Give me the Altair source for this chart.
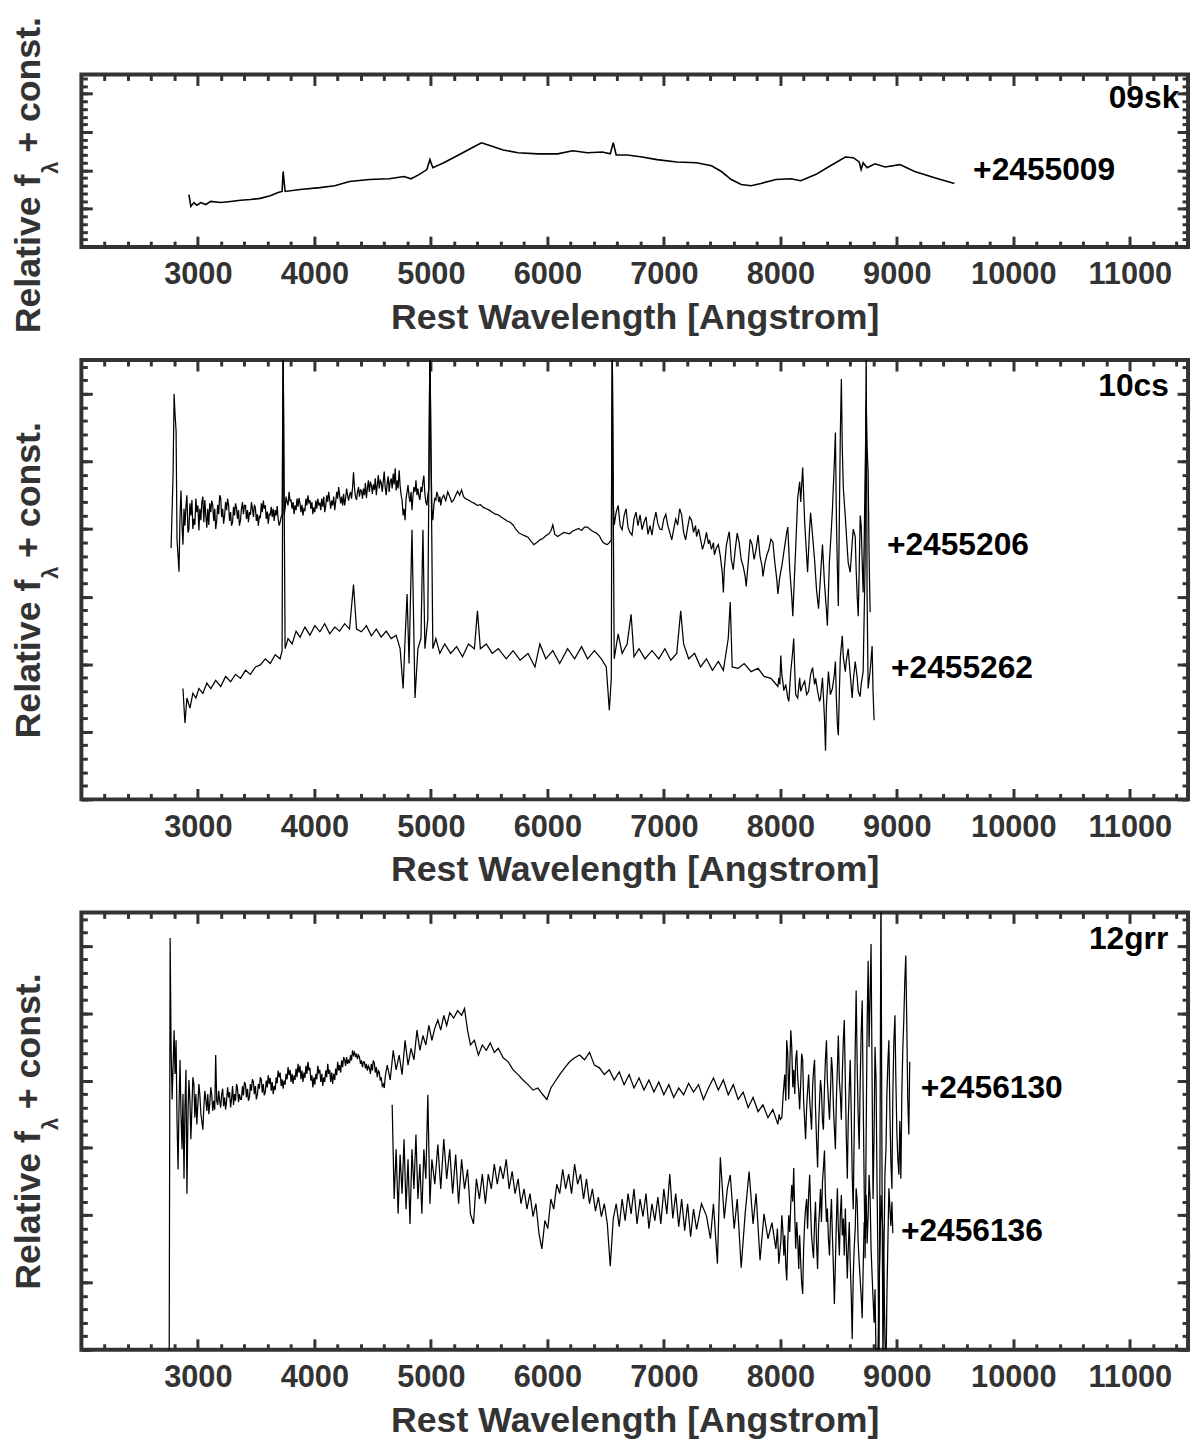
import altair as alt
import pandas as pd

FONT = "Liberation Sans"
AXIS_GRAY = "#333333"

# Each spectrum: list of (rest wavelength [A], relative flux + const.)
# ---------------- Panel 1: 09sk ----------------
sk09 = [(2923, 1.37), (2940, 1.06), (2966, 1.16), (2992, 1.09), (3026, 1.16), (3068, 1.11), (3111, 1.19), (3196, 1.16), (3281, 1.19), (3366, 1.22),
        (3451, 1.24), (3536, 1.27), (3621, 1.34), (3689, 1.42), (3723, 1.45), (3732, 1.97), (3749, 1.45), (3877, 1.50), (4047, 1.55), (4175, 1.60),
        (4302, 1.71), (4472, 1.76), (4643, 1.78), (4770, 1.84), (4830, 1.78), (4898, 1.89), (4966, 2.02), (4992, 2.28), (5017, 2.07), (5111, 2.20),
        (5238, 2.40), (5366, 2.61), (5434, 2.72), (5493, 2.66), (5621, 2.53), (5749, 2.46), (5919, 2.43), (6089, 2.43), (6217, 2.51), (6345, 2.46),
        (6472, 2.48), (6540, 2.43), (6566, 2.72), (6591, 2.40), (6685, 2.40), (6813, 2.35), (6941, 2.28), (7111, 2.22), (7281, 2.20), (7409, 2.12),
        (7494, 1.97), (7579, 1.76), (7664, 1.63), (7749, 1.60), (7834, 1.66), (7962, 1.76), (8090, 1.78), (8175, 1.73), (8303, 1.89), (8430, 2.12),
        (8558, 2.35), (8626, 2.33), (8677, 2.22), (8694, 2.02), (8711, 2.20), (8745, 2.07), (8813, 2.17), (8899, 2.09), (9026, 2.15), (9154, 1.97),
        (9324, 1.81), (9494, 1.66)]

# ---------------- Panel 2: 10cs ----------------
cs10_206 = [
    (2770, 3.72), (2787, 4.80), (2796, 6.00), (2804, 5.70), (2813, 5.45), (2821, 3.84), (2830, 3.60), (2838, 3.37), (2847, 4.20), (2855, 4.57),
    (2864, 4.05), (2872, 3.77), (2881, 4.30), (2889, 4.05), (2898, 4.35), (2906, 4.50), (2915, 3.95), (2923, 3.99), (2932, 4.38), (2940, 4.20),
    (2949, 4.43), (2957, 4.00), (2966, 4.15), (2974, 4.06), (2983, 4.45), (2991, 4.25), (3000, 4.35), (3009, 3.98), (3017, 4.30), (3026, 4.13),
    (3034, 4.40), (3043, 4.48), (3051, 4.10), (3060, 4.43), (3068, 4.20), (3077, 4.02), (3085, 4.30), (3094, 4.06), (3102, 4.38), (3111, 4.25),
    (3119, 4.42), (3128, 4.35), (3136, 4.12), (3145, 4.30), (3153, 4.00), (3162, 4.13), (3170, 4.36), (3179, 4.22), (3187, 4.50), (3196, 4.46),
    (3204, 4.18), (3213, 4.30), (3221, 4.08), (3230, 4.21), (3238, 4.40), (3247, 4.28), (3255, 4.45), (3264, 4.35), (3272, 4.12), (3281, 4.25),
    (3289, 4.05), (3298, 4.10), (3306, 4.33), (3315, 4.20), (3323, 4.38), (3332, 4.31), (3340, 4.15), (3349, 4.28), (3357, 4.05), (3366, 4.13),
    (3374, 4.30), (3383, 4.40), (3391, 4.22), (3400, 4.35), (3409, 4.35), (3417, 4.15), (3426, 4.28), (3434, 4.10), (3443, 4.25), (3451, 4.21),
    (3460, 4.40), (3468, 4.30), (3477, 4.18), (3485, 4.36), (3494, 4.31), (3502, 4.12), (3511, 4.22), (3519, 4.05), (3528, 4.20), (3536, 4.16),
    (3545, 4.38), (3553, 4.25), (3562, 4.42), (3570, 4.30), (3579, 4.35), (3587, 4.15), (3596, 4.26), (3604, 4.08), (3613, 4.22), (3621, 4.21),
    (3630, 4.33), (3638, 4.18), (3647, 4.30), (3655, 4.12), (3664, 4.28), (3672, 4.20), (3681, 4.34), (3689, 4.15), (3698, 4.05), (3706, 4.10),
    (3715, 4.18), (3723, 4.21), (3732, 6.80), (3740, 4.21), (3749, 4.30), (3757, 4.48), (3766, 4.40), (3774, 4.35), (3783, 4.55), (3791, 4.42),
    (3800, 4.43), (3809, 4.30), (3817, 4.40), (3826, 4.22), (3834, 4.35), (3843, 4.28), (3851, 4.45), (3860, 4.33), (3868, 4.46), (3877, 4.38),
    (3885, 4.25), (3894, 4.36), (3902, 4.20), (3911, 4.30), (3919, 4.28), (3928, 4.45), (3936, 4.35), (3945, 4.50), (3953, 4.38), (3962, 4.43),
    (3970, 4.30), (3979, 4.40), (3987, 4.22), (3996, 4.32), (4004, 4.25), (4013, 4.42), (4021, 4.30), (4030, 4.45), (4038, 4.36), (4047, 4.38),
    (4055, 4.28), (4064, 4.45), (4072, 4.33), (4081, 4.48), (4089, 4.25), (4098, 4.35), (4106, 4.50), (4115, 4.40), (4123, 4.55), (4132, 4.43),
    (4140, 4.30), (4149, 4.42), (4157, 4.35), (4166, 4.48), (4175, 4.28), (4183, 4.40), (4192, 4.55), (4200, 4.45), (4209, 4.62), (4217, 4.50),
    (4226, 4.38), (4234, 4.48), (4243, 4.35), (4251, 4.52), (4260, 4.35), (4268, 4.45), (4277, 4.60), (4285, 4.50), (4294, 4.42), (4302, 4.50),
    (4311, 4.55), (4319, 4.45), (4328, 4.62), (4336, 4.84), (4345, 4.60), (4353, 4.48), (4362, 4.43), (4370, 4.55), (4379, 4.62), (4387, 4.48),
    (4396, 4.58), (4404, 4.57), (4413, 4.45), (4421, 4.60), (4430, 4.50), (4438, 4.68), (4447, 4.46), (4455, 4.60), (4464, 4.72), (4472, 4.55),
    (4481, 4.70), (4489, 4.65), (4498, 4.52), (4506, 4.66), (4515, 4.58), (4523, 4.75), (4532, 4.50), (4540, 4.65), (4549, 4.80), (4557, 4.60),
    (4566, 4.72), (4574, 4.69), (4583, 4.55), (4591, 4.70), (4600, 4.85), (4608, 4.62), (4617, 4.50), (4625, 4.68), (4634, 4.78), (4642, 4.55),
    (4651, 4.70), (4660, 4.75), (4668, 4.60), (4677, 4.82), (4685, 4.66), (4694, 4.90), (4702, 4.57), (4711, 4.72), (4719, 4.60), (4728, 4.87),
    (4736, 4.65), (4745, 4.50), (4753, 4.43), (4762, 4.20), (4770, 4.30), (4779, 4.13), (4787, 4.45), (4796, 4.55), (4804, 4.65), (4813, 4.48),
    (4821, 4.40), (4830, 4.55), (4838, 4.28), (4847, 4.50), (4855, 4.62), (4864, 4.55), (4872, 4.72), (4881, 4.50), (4889, 4.60), (4898, 4.48),
    (4906, 4.43), (4915, 4.62), (4923, 4.55), (4932, 4.70), (4940, 4.79), (4949, 4.52), (4957, 4.40), (4966, 4.35), (4974, 4.50), (4983, 4.60),
    (4992, 6.80), (5000, 5.20), (5009, 4.30), (5017, 4.13), (5026, 4.35), (5034, 4.45), (5043, 4.43), (5051, 4.55), (5060, 4.50), (5068, 4.40),
    (5077, 4.48), (5085, 4.35), (5094, 4.45), (5111, 4.50), (5128, 4.42), (5145, 4.55), (5162, 4.48), (5179, 4.40), (5196, 4.43), (5213, 4.50),
    (5230, 4.56), (5247, 4.50), (5264, 4.58), (5281, 4.48), (5298, 4.45), (5323, 4.43), (5349, 4.40), (5374, 4.38), (5400, 4.35), (5425, 4.36),
    (5451, 4.32), (5476, 4.30), (5502, 4.28), (5527, 4.25), (5553, 4.22), (5579, 4.21), (5604, 4.18), (5630, 4.15), (5655, 4.12), (5681, 4.10),
    (5706, 4.06), (5732, 3.99), (5757, 3.94), (5783, 3.92), (5808, 3.90), (5834, 3.88), (5859, 3.82), (5885, 3.77), (5910, 3.80), (5936, 3.84),
    (5961, 3.86), (5987, 3.90), (6013, 3.93), (6030, 3.97), (6047, 4.06), (6064, 3.92), (6089, 3.89), (6115, 3.92), (6140, 3.95), (6166, 3.94),
    (6191, 3.93), (6217, 3.97), (6243, 3.99), (6268, 4.01), (6294, 3.98), (6319, 4.03), (6345, 4.03), (6370, 3.99), (6396, 3.96), (6421, 3.94),
    (6447, 3.90), (6464, 3.84), (6481, 3.80), (6498, 3.78), (6515, 3.77), (6532, 3.80), (6549, 3.84), (6557, 6.80), (6566, 4.40), (6574, 4.06),
    (6591, 4.25), (6608, 4.35), (6625, 4.05), (6642, 3.99), (6659, 4.20), (6676, 4.30), (6693, 4.02), (6710, 3.95), (6727, 3.91), (6744, 4.15),
    (6761, 4.25), (6778, 4.05), (6796, 4.21), (6813, 3.99), (6830, 4.10), (6847, 4.18), (6864, 3.92), (6881, 4.05), (6898, 3.91), (6915, 4.12),
    (6932, 4.25), (6949, 4.08), (6966, 4.00), (6983, 3.99), (7000, 4.15), (7017, 4.22), (7034, 4.05), (7051, 3.95), (7068, 3.84), (7085, 4.00),
    (7102, 4.15), (7119, 4.06), (7136, 4.30), (7153, 4.21), (7170, 3.95), (7187, 3.84), (7204, 4.02), (7221, 4.18), (7238, 4.13), (7255, 3.95),
    (7272, 4.05), (7281, 3.89), (7298, 4.00), (7315, 3.85), (7332, 3.70), (7349, 3.80), (7366, 3.95), (7383, 3.78), (7392, 3.84), (7409, 3.70),
    (7426, 3.80), (7434, 3.62), (7451, 3.72), (7468, 3.77), (7485, 3.60), (7502, 3.35), (7511, 3.06), (7519, 3.40), (7536, 3.75), (7553, 3.90),
    (7562, 3.96), (7579, 3.55), (7596, 3.40), (7613, 3.70), (7630, 3.94), (7647, 3.80), (7664, 3.55), (7681, 3.45), (7698, 3.30), (7707, 3.15),
    (7724, 3.50), (7741, 3.85), (7758, 3.77), (7775, 3.55), (7792, 3.70), (7809, 3.91), (7826, 3.60), (7843, 3.45), (7851, 3.30), (7868, 3.50),
    (7885, 3.62), (7902, 3.70), (7919, 3.85), (7936, 3.81), (7953, 3.50), (7970, 3.25), (7979, 3.04), (7996, 3.30), (8013, 3.45), (8021, 3.55),
    (8038, 3.75), (8055, 3.95), (8064, 4.03), (8081, 3.40), (8098, 3.00), (8107, 2.71), (8124, 3.40), (8141, 4.10), (8149, 4.46), (8166, 4.70),
    (8175, 4.40), (8192, 4.91), (8209, 4.10), (8226, 3.60), (8234, 3.36), (8251, 4.00), (8260, 4.24), (8277, 3.90), (8294, 3.55), (8311, 3.10),
    (8328, 2.82), (8345, 3.30), (8362, 3.77), (8379, 3.20), (8396, 2.80), (8404, 2.57), (8421, 3.50), (8438, 4.00), (8447, 4.28), (8464, 5.00),
    (8473, 5.43), (8481, 4.20), (8490, 3.40), (8498, 2.86), (8507, 4.20), (8515, 5.40), (8524, 6.22), (8532, 5.20), (8541, 4.60), (8558, 4.18),
    (8575, 3.70), (8583, 3.50), (8600, 3.36), (8617, 3.80), (8626, 4.00), (8643, 3.89), (8651, 3.40), (8660, 3.00), (8669, 2.71), (8677, 3.40),
    (8686, 4.20), (8694, 4.06), (8703, 3.50), (8711, 3.06), (8720, 3.80), (8728, 4.80), (8737, 5.89), (8745, 5.20), (8754, 4.82), (8762, 3.60),
    (8771, 2.77)]

cs10_262 = [
    (2872, 1.64), (2889, 1.13), (2906, 1.50), (2932, 1.35), (2957, 1.57), (2983, 1.50), (3009, 1.64), (3043, 1.57), (3077, 1.72), (3111, 1.64),
    (3153, 1.76), (3196, 1.67), (3238, 1.82), (3281, 1.74), (3323, 1.85), (3366, 1.79), (3409, 1.91), (3451, 1.85), (3494, 1.96), (3536, 1.99),
    (3579, 2.08), (3621, 2.01), (3664, 2.14), (3706, 2.08), (3723, 2.20), (3732, 6.80), (3749, 2.23), (3774, 2.38), (3809, 2.30), (3843, 2.49),
    (3877, 2.40), (3919, 2.55), (3962, 2.43), (4004, 2.57), (4047, 2.48), (4089, 2.60), (4132, 2.45), (4175, 2.55), (4217, 2.49), (4260, 2.60),
    (4302, 2.52), (4336, 3.18), (4362, 2.52), (4404, 2.48), (4447, 2.57), (4489, 2.42), (4532, 2.52), (4574, 2.40), (4617, 2.49), (4660, 2.38),
    (4702, 2.43), (4736, 2.23), (4762, 1.64), (4779, 2.38), (4796, 3.04), (4813, 2.01), (4838, 3.99), (4864, 1.50), (4889, 2.23), (4915, 2.38),
    (4932, 3.99), (4949, 2.23), (4974, 2.67), (4992, 6.80), (5017, 2.23), (5043, 2.38), (5077, 2.16), (5119, 2.30), (5170, 2.16), (5221, 2.26),
    (5272, 2.11), (5323, 2.30), (5374, 2.23), (5400, 2.79), (5425, 2.23), (5476, 2.30), (5527, 2.16), (5579, 2.23), (5647, 2.08), (5706, 2.20),
    (5766, 2.06), (5834, 2.16), (5894, 1.96), (5936, 2.30), (5987, 2.08), (6047, 2.20), (6106, 2.01), (6174, 2.23), (6234, 2.08), (6294, 2.26),
    (6345, 2.08), (6404, 2.20), (6464, 2.08), (6506, 1.96), (6532, 1.32), (6549, 1.79), (6557, 6.80), (6574, 2.08), (6608, 2.45), (6642, 2.16),
    (6685, 2.30), (6719, 2.74), (6744, 2.11), (6787, 2.23), (6838, 2.08), (6898, 2.20), (6957, 2.08), (7009, 2.23), (7060, 2.06), (7111, 2.16),
    (7145, 2.79), (7170, 2.30), (7213, 2.08), (7264, 2.16), (7315, 1.96), (7366, 2.08), (7417, 1.91), (7468, 2.04), (7511, 1.91), (7553, 2.38),
    (7570, 2.92), (7587, 1.96), (7638, 1.94), (7690, 2.01), (7749, 1.89), (7809, 1.94), (7860, 1.82), (7919, 1.79), (7979, 1.67), (7987, 1.80),
    (7996, 1.70), (8004, 2.13), (8013, 1.85), (8021, 1.75), (8030, 1.61), (8047, 1.70), (8064, 1.50), (8073, 1.45), (8090, 1.90), (8107, 2.20),
    (8115, 2.38), (8124, 1.90), (8132, 1.55), (8149, 1.50), (8166, 1.80), (8175, 1.60), (8192, 1.69), (8209, 1.75), (8226, 1.55), (8243, 1.60),
    (8260, 1.85), (8277, 1.95), (8294, 1.70), (8303, 1.79), (8320, 1.60), (8337, 1.45), (8345, 1.50), (8362, 1.80), (8379, 1.20), (8388, 0.72),
    (8396, 1.40), (8413, 1.89), (8430, 1.55), (8447, 1.64), (8464, 1.85), (8473, 2.04), (8481, 1.50), (8490, 1.10), (8498, 0.95), (8507, 1.60),
    (8515, 2.10), (8532, 2.42), (8541, 2.10), (8558, 1.89), (8566, 2.05), (8583, 2.23), (8600, 1.85), (8617, 1.50), (8626, 1.75), (8643, 2.04),
    (8660, 1.80), (8669, 1.60), (8685, 1.52), (8694, 1.70), (8711, 1.89), (8728, 3.50), (8737, 6.80), (8745, 3.00), (8754, 1.64), (8771, 1.90),
    (8788, 2.27), (8796, 1.60), (8805, 1.17)]

# ---------------- Panel 3: 12grr ----------------
grr12_130 = [
    (2753, -0.71), (2762, 6.12), (2770, 4.50), (2779, 3.72), (2787, 4.20), (2796, 4.75), (2804, 4.10), (2813, 4.60), (2821, 3.40), (2830, 2.68),
    (2838, 3.60), (2847, 4.31), (2855, 3.50), (2864, 2.98), (2872, 3.80), (2881, 2.54), (2889, 3.60), (2898, 4.16), (2906, 2.32), (2915, 3.50),
    (2923, 4.01), (2932, 3.70), (2940, 3.13), (2949, 3.60), (2957, 4.05), (2966, 3.94), (2974, 3.45), (2983, 3.80), (2991, 3.35), (3000, 3.65),
    (3009, 3.95), (3017, 3.79), (3026, 3.50), (3034, 3.40), (3043, 3.27), (3051, 3.60), (3060, 3.85), (3068, 3.72), (3077, 3.55), (3085, 3.80),
    (3094, 3.50), (3102, 3.65), (3111, 3.90), (3119, 3.79), (3128, 3.55), (3136, 3.70), (3145, 3.57), (3153, 4.38), (3162, 3.70), (3170, 3.64),
    (3179, 3.85), (3187, 3.70), (3196, 3.60), (3204, 3.79), (3213, 3.88), (3221, 3.62), (3230, 3.75), (3238, 3.57), (3247, 3.70), (3255, 3.90),
    (3264, 3.75), (3272, 3.83), (3281, 3.60), (3289, 3.72), (3298, 3.92), (3306, 3.64), (3315, 3.80), (3323, 3.70), (3332, 3.95), (3340, 3.89),
    (3349, 3.68), (3357, 3.80), (3366, 3.72), (3374, 3.72), (3383, 3.92), (3391, 3.78), (3400, 3.98), (3409, 3.94), (3417, 3.75), (3426, 3.88),
    (3434, 3.70), (3443, 3.75), (3451, 3.95), (3460, 3.85), (3468, 4.02), (3477, 3.98), (3485, 3.80), (3494, 3.92), (3502, 3.72), (3511, 3.79),
    (3519, 3.95), (3528, 3.88), (3536, 4.05), (3545, 4.01), (3553, 3.82), (3562, 3.95), (3570, 3.78), (3579, 3.83), (3587, 4.00), (3596, 3.90),
    (3604, 4.08), (3613, 3.95), (3621, 4.04), (3630, 3.85), (3638, 3.98), (3647, 3.80), (3655, 3.92), (3664, 3.86), (3672, 4.05), (3681, 3.96),
    (3689, 4.15), (3698, 4.05), (3706, 4.12), (3715, 3.92), (3723, 4.02), (3732, 3.88), (3740, 4.00), (3749, 3.94), (3757, 4.10), (3766, 4.02),
    (3774, 4.20), (3783, 4.08), (3792, 4.16), (3800, 3.98), (3809, 4.10), (3817, 3.95), (3826, 4.08), (3834, 4.01), (3843, 4.18), (3851, 4.05),
    (3860, 4.25), (3868, 4.12), (3877, 4.22), (3885, 4.02), (3894, 4.15), (3902, 3.98), (3911, 4.12), (3919, 4.04), (3928, 4.22), (3936, 4.10),
    (3945, 4.28), (3953, 4.15), (3962, 4.19), (3970, 4.00), (3979, 4.08), (3987, 3.90), (3996, 4.05), (4004, 3.94), (4013, 4.10), (4021, 4.02),
    (4030, 4.22), (4038, 4.12), (4047, 4.16), (4055, 3.98), (4064, 4.10), (4072, 3.92), (4081, 4.05), (4089, 3.98), (4098, 4.15), (4106, 4.05),
    (4115, 4.25), (4123, 4.10), (4132, 4.16), (4140, 3.98), (4149, 4.12), (4157, 3.95), (4166, 4.10), (4175, 4.01), (4183, 4.18), (4192, 4.08),
    (4200, 4.28), (4209, 4.15), (4217, 4.23), (4226, 4.12), (4234, 4.30), (4243, 4.20), (4251, 4.35), (4260, 4.31), (4268, 4.22), (4277, 4.35),
    (4285, 4.25), (4294, 4.30), (4302, 4.26), (4311, 4.38), (4319, 4.30), (4328, 4.45), (4336, 4.38), (4345, 4.42), (4353, 4.35), (4362, 4.40),
    (4370, 4.32), (4379, 4.38), (4387, 4.35), (4396, 4.25), (4404, 4.30), (4413, 4.20), (4421, 4.28), (4430, 4.28), (4438, 4.18), (4447, 4.25),
    (4455, 4.15), (4464, 4.22), (4472, 4.19), (4481, 4.10), (4489, 4.25), (4498, 4.15), (4506, 4.30), (4515, 4.26), (4523, 4.12), (4532, 4.20),
    (4540, 4.05), (4549, 4.15), (4557, 4.13), (4566, 4.00), (4574, 4.05), (4583, 3.92), (4591, 3.95), (4600, 3.89), (4608, 4.05), (4617, 4.15),
    (4626, 4.23), (4651, 4.01), (4677, 4.45), (4702, 4.16), (4728, 4.38), (4753, 4.09), (4779, 4.60), (4804, 4.23), (4830, 4.48), (4855, 4.31),
    (4881, 4.75), (4906, 4.45), (4932, 4.67), (4957, 4.53), (4983, 4.82), (5009, 4.60), (5034, 4.78), (5060, 4.90), (5085, 4.75), (5111, 4.97),
    (5136, 4.82), (5162, 5.01), (5196, 4.93), (5230, 5.04), (5264, 4.97), (5289, 5.07), (5315, 4.75), (5340, 4.53), (5374, 4.60), (5408, 4.38),
    (5442, 4.53), (5476, 4.45), (5510, 4.56), (5545, 4.42), (5579, 4.48), (5621, 4.34), (5664, 4.28), (5706, 4.16), (5749, 4.09), (5791, 4.01),
    (5834, 3.94), (5877, 3.86), (5919, 3.89), (5962, 3.79), (5996, 3.72), (6030, 3.89), (6064, 3.98), (6106, 4.09), (6149, 4.19), (6191, 4.28),
    (6234, 4.34), (6277, 4.38), (6319, 4.31), (6362, 4.42), (6404, 4.23), (6447, 4.19), (6489, 4.09), (6532, 4.16), (6574, 4.01), (6617, 4.13),
    (6659, 3.94), (6702, 4.09), (6744, 3.89), (6787, 4.04), (6830, 3.86), (6872, 4.01), (6915, 3.83), (6957, 3.98), (7000, 3.79), (7043, 3.94),
    (7085, 3.75), (7128, 3.89), (7170, 3.79), (7213, 3.96), (7255, 3.83), (7298, 3.94), (7340, 3.72), (7383, 3.89), (7426, 4.04), (7468, 3.86),
    (7511, 4.01), (7553, 3.79), (7596, 3.94), (7638, 3.72), (7681, 3.83), (7724, 3.60), (7766, 3.75), (7809, 3.54), (7851, 3.64), (7894, 3.45),
    (7936, 3.57), (7979, 3.35), (7990, 3.50), (8000, 3.42), (8013, 3.45), (8025, 3.80), (8038, 4.09), (8047, 3.70), (8055, 4.60), (8064, 4.40),
    (8072, 3.72), (8081, 4.20), (8090, 4.75), (8098, 4.50), (8107, 3.90), (8115, 4.16), (8124, 3.80), (8132, 4.30), (8141, 4.45), (8149, 4.05),
    (8158, 3.85), (8166, 3.57), (8175, 3.95), (8183, 4.40), (8192, 4.31), (8200, 3.70), (8209, 3.40), (8217, 3.13), (8226, 3.60), (8234, 3.85),
    (8243, 4.09), (8251, 3.75), (8260, 3.50), (8268, 3.27), (8277, 3.90), (8285, 4.15), (8294, 4.31), (8302, 3.60), (8311, 3.10), (8320, 2.71),
    (8328, 3.30), (8337, 3.70), (8345, 4.01), (8353, 3.85), (8362, 3.40), (8370, 3.27), (8379, 3.90), (8387, 4.30), (8396, 4.60), (8404, 4.00),
    (8413, 3.70), (8422, 3.42), (8430, 3.80), (8439, 4.35), (8447, 4.16), (8456, 3.60), (8464, 3.30), (8473, 2.98), (8481, 3.70), (8490, 4.20),
    (8498, 4.67), (8507, 4.00), (8515, 3.80), (8524, 3.42), (8532, 4.10), (8541, 4.60), (8549, 4.90), (8558, 4.00), (8566, 3.20), (8575, 2.54),
    (8583, 3.40), (8592, 3.90), (8600, 4.31), (8609, 3.50), (8617, 2.60), (8626, 2.09), (8634, 3.20), (8643, 4.50), (8651, 5.34), (8660, 4.20),
    (8668, 3.50), (8677, 2.98), (8685, 3.90), (8694, 4.70), (8703, 5.19), (8711, 3.80), (8720, 2.40), (8728, 1.36), (8737, 3.20), (8745, 4.80),
    (8754, 5.78), (8762, 4.50), (8771, 5.30), (8779, 6.03), (8788, 4.00), (8796, 2.24), (8805, 3.20), (8813, 4.50), (8822, 4.01), (8830, 2.50),
    (8839, 1.20), (8847, -0.30), (8856, 3.00), (8864, 6.96), (8872, 3.00), (8881, -0.27), (8890, 1.50), (8898, 2.60), (8907, 2.98), (8915, 3.80),
    (8924, 4.30), (8932, 4.60), (8941, 3.50), (8949, 2.80), (8958, 2.39), (8966, 3.80), (8975, 4.60), (8984, 4.97), (8992, 4.00), (9001, 3.20),
    (9009, 2.83), (9018, 2.60), (9026, 3.40), (9035, 2.54), (9043, 3.80), (9052, 4.50), (9060, 4.90), (9069, 5.50), (9077, 5.86), (9086, 4.80),
    (9094, 3.72), (9103, 3.20), (9111, 4.28)]

grr12_136 = [
    (4668, 3.64), (4685, 2.24), (4702, 2.98), (4719, 2.02), (4736, 2.90), (4753, 2.32), (4770, 3.13), (4787, 2.09), (4804, 2.83), (4821, 1.87),
    (4838, 2.98), (4855, 2.39), (4872, 3.20), (4889, 2.24), (4906, 2.76), (4923, 2.02), (4940, 2.98), (4957, 2.54), (4974, 3.79), (4992, 2.17),
    (5009, 2.83), (5034, 2.46), (5060, 3.05), (5085, 2.39), (5111, 3.13), (5136, 2.54), (5162, 2.98), (5187, 2.32), (5213, 2.90), (5238, 2.17),
    (5264, 2.83), (5289, 2.39), (5315, 2.68), (5340, 2.02), (5366, 1.87), (5391, 2.54), (5417, 2.24), (5442, 2.61), (5468, 2.17), (5493, 2.61),
    (5519, 2.39), (5545, 2.76), (5570, 2.46), (5596, 2.73), (5621, 2.54), (5647, 2.83), (5672, 2.39), (5698, 2.65), (5723, 2.32), (5749, 2.54),
    (5774, 2.17), (5800, 2.39), (5825, 2.09), (5851, 2.32), (5877, 1.98), (5902, 2.17), (5928, 1.73), (5953, 1.50), (5979, 1.92), (6004, 1.80),
    (6030, 2.24), (6055, 2.09), (6081, 2.46), (6106, 2.32), (6132, 2.68), (6157, 2.39), (6183, 2.61), (6208, 2.32), (6234, 2.76), (6260, 2.46),
    (6285, 2.61), (6311, 2.24), (6336, 2.54), (6362, 2.17), (6387, 2.39), (6413, 2.06), (6438, 2.27), (6464, 1.98), (6489, 2.17), (6515, 1.87),
    (6540, 1.24), (6566, 1.95), (6591, 2.17), (6617, 1.83), (6642, 2.24), (6668, 1.92), (6693, 2.32), (6719, 2.02), (6744, 2.39), (6770, 1.87),
    (6796, 2.24), (6821, 1.98), (6847, 2.32), (6872, 1.80), (6898, 2.17), (6923, 1.92), (6949, 2.27), (6974, 1.87), (7000, 2.39), (7026, 2.02),
    (7051, 2.61), (7077, 1.95), (7102, 2.32), (7128, 1.83), (7153, 2.24), (7179, 1.77), (7204, 2.17), (7230, 1.68), (7255, 2.09), (7281, 1.79),
    (7323, 2.17), (7366, 1.99), (7400, 1.65), (7426, 2.17), (7460, 1.28), (7485, 2.86), (7519, 1.95), (7545, 2.39), (7570, 2.60), (7604, 1.80),
    (7630, 2.24), (7664, 1.22), (7698, 2.02), (7732, 2.65), (7766, 1.87), (7792, 2.32), (7826, 1.33), (7860, 2.02), (7894, 1.65), (7928, 1.89),
    (7962, 1.50), (7975, 1.80), (7987, 1.28), (8004, 1.60), (8013, 2.00), (8021, 1.80), (8030, 1.40), (8038, 1.70), (8047, 1.25), (8055, 1.03),
    (8064, 1.60), (8072, 2.00), (8081, 1.75), (8090, 2.17), (8098, 2.45), (8107, 2.20), (8115, 2.70), (8124, 2.00), (8132, 1.50), (8141, 1.90),
    (8149, 1.65), (8158, 1.20), (8166, 1.70), (8175, 1.30), (8183, 1.00), (8192, 0.83), (8200, 1.50), (8209, 1.90), (8217, 2.10), (8226, 2.24),
    (8234, 1.80), (8243, 2.30), (8252, 2.60), (8260, 2.10), (8268, 1.70), (8277, 1.50), (8285, 1.36), (8294, 1.90), (8302, 2.20), (8311, 1.58),
    (8320, 1.20), (8328, 1.80), (8337, 2.10), (8345, 2.39), (8353, 1.90), (8362, 2.50), (8370, 2.70), (8379, 2.96), (8387, 2.30), (8396, 1.90),
    (8404, 2.10), (8413, 1.65), (8422, 1.40), (8430, 1.90), (8439, 2.24), (8447, 1.70), (8456, 1.20), (8464, 0.68), (8473, 1.30), (8481, 1.90),
    (8490, 2.40), (8498, 1.80), (8507, 1.40), (8515, 2.00), (8524, 2.30), (8532, 1.70), (8541, 1.95), (8549, 1.40), (8558, 2.10), (8566, 1.60),
    (8575, 1.06), (8583, 1.50), (8592, 1.90), (8600, 1.30), (8609, 0.80), (8617, 0.16), (8626, 1.10), (8634, 1.50), (8643, 1.80), (8651, 2.40),
    (8660, 2.20), (8668, 1.60), (8677, 1.30), (8685, 1.06), (8694, 0.80), (8703, 0.47), (8711, 1.20), (8720, 1.90), (8728, 1.65), (8737, 2.30),
    (8745, 1.58), (8754, 2.00), (8762, 2.60), (8771, 2.24), (8779, 1.50), (8788, 1.10), (8796, 0.77), (8805, 0.40), (8813, 0.90), (8822, -0.12),
    (8830, -0.30), (8839, 0.06), (8847, 0.90), (8856, 1.50), (8864, 2.30), (8872, 2.00), (8881, 1.78), (8890, 1.10), (8898, 0.18), (8907, -0.41),
    (8915, 0.80), (8924, 1.65), (8932, 2.40), (8941, 2.10), (8949, 1.84), (8958, 2.20), (8966, 1.73)]

# ---------------- annotation text ----------------
p1_lab_text = ["+2455009"]
p1_lab_wl = [9655]
p1_lab_f = [2.02]
p2_lab_text = ["+2455206", "+2455262"]
p2_lab_wl = [8915, 8950]
p2_lab_f = [3.77, 1.94]
p3_lab_text = ["+2456130", "+2456136"]
p3_lab_wl = [9205, 9035]
p3_lab_f = [3.89, 1.77]
tag_text = ["09sk", "10cs", "12grr"]
tag_wl = [11425, 11335, 11330]
tag_f = [3.88, 6.11, 6.11]

# ---------------- axes ----------------
X_DOMAIN = [2000, 11500]
X_MAJOR = [3000, 4000, 5000, 6000, 7000, 8000, 9000, 10000, 11000]
X_MINOR = [v for v in range(2200, 11500, 200) if v % 1000 != 0]

PANEL_W = 1116
MAJ, MIN = 11, 6
TITLE_SIZE = 36


def tick_axis(orient, values, size):
    return alt.Axis(orient=orient, values=values, tickSize=size, offset=-size,
                    domain=False, grid=False, labels=False, ticks=True,
                    tickColor=AXIS_GRAY, tickWidth=3, title=None)


x_bottom_major = alt.Axis(
    orient="bottom", values=X_MAJOR, format="d", tickSize=MAJ, offset=-MAJ,
    domain=False, grid=False, ticks=True, tickColor=AXIS_GRAY, tickWidth=3,
    labels=True, labelFont=FONT, labelFontSize=31, labelFontWeight="bold",
    labelColor=AXIS_GRAY, labelPadding=13, labelFlush=False, labelOverlap=False,
    title="Rest Wavelength [Angstrom]", titleFont=FONT, titleFontSize=TITLE_SIZE,
    titleFontWeight="bold", titleColor=AXIS_GRAY, titlePadding=11)


def spectra_df(series):
    frames = []
    for name, pairs in series:
        d = pd.DataFrame(pairs, columns=["wl", "f"])
        d["s"] = name
        d["i"] = list(range(len(d)))
        frames.append(d)
    return pd.concat(frames, ignore_index=True)


def y_title(height, shift):
    c = height / 2 + shift
    parts = []
    for txt, x, y, size in [("Relative f", -42, c + 160, TITLE_SIZE),
                            ("λ", -24, c - 1, 22),
                            ("+ const.", -42, c - 22, TITLE_SIZE)]:
        parts.append(
            alt.Chart(pd.DataFrame({"t": [txt]})).mark_text(
                angle=270, align="left", baseline="alphabetic", font=FONT,
                fontSize=size, fontWeight="bold", color=AXIS_GRAY
            ).encode(x=alt.value(x), y=alt.value(y), text="t:N"))
    return parts


def panel(series, lab_text, lab_wl, lab_f, tag_idx, height, ymax, ymajor, yminor,
          title_shift=0, line_w=1.25):
    df = spectra_df(series)
    xs = alt.Scale(domain=X_DOMAIN, nice=False, zero=False)
    ys = alt.Scale(domain=[0, ymax], nice=False, zero=False)

    lines = alt.Chart(df).mark_line(color="black", strokeWidth=line_w, clip=True).encode(
        x=alt.X("wl:Q", scale=xs, axis=x_bottom_major),
        y=alt.Y("f:Q", scale=ys, axis=tick_axis("left", ymajor, MAJ)),
        detail="s:N", order="i:Q")

    helpers = []
    for xa, ya in [(tick_axis("bottom", X_MINOR, MIN), tick_axis("left", yminor, MIN)),
                   (tick_axis("top", X_MAJOR, MAJ), tick_axis("right", ymajor, MAJ)),
                   (tick_axis("top", X_MINOR, MIN), tick_axis("right", yminor, MIN))]:
        helpers.append(alt.Chart(df).mark_line(opacity=0, clip=True).encode(
            x=alt.X("wl:Q", scale=xs, axis=xa),
            y=alt.Y("f:Q", scale=ys, axis=ya),
            detail="s:N", order="i:Q"))

    labs = alt.Chart(pd.DataFrame({"wl": lab_wl, "f": lab_f, "t": lab_text})).mark_text(
        align="left", baseline="middle", font=FONT, fontSize=32,
        fontWeight="bold", color="black"
    ).encode(x=alt.X("wl:Q", scale=xs, axis=None),
             y=alt.Y("f:Q", scale=ys, axis=None), text="t:N")

    tag = alt.Chart(pd.DataFrame({"wl": [tag_wl[tag_idx]], "f": [tag_f[tag_idx]],
                                  "t": [tag_text[tag_idx]]})).mark_text(
        align="right", baseline="middle", font=FONT, fontSize=32,
        fontWeight="bold", color="black"
    ).encode(x=alt.X("wl:Q", scale=xs, axis=None),
             y=alt.Y("f:Q", scale=ys, axis=None), text="t:N")

    return alt.layer(lines, *helpers, labs, tag, *y_title(height, title_shift)).resolve_scale(
        x="shared", y="shared").resolve_axis(
        x="independent", y="independent").properties(width=PANEL_W, height=height)


Y1_MAJOR = [0, 1, 2, 3, 4]
Y1_MINOR = [round(i * 0.2, 1) for i in range(0, 23)]
Y_MAJOR = [0, 1, 2, 3, 4, 5, 6]
Y_MINOR = [round(i * 0.2, 1) for i in range(0, 33)]

p1 = panel([("09sk", sk09)], p1_lab_text, p1_lab_wl, p1_lab_f, 0,
           174, 4.5, Y1_MAJOR, Y1_MINOR, title_shift=14, line_w=1.6)
p2 = panel([("+2455206", cs10_206), ("+2455262", cs10_262)],
           p2_lab_text, p2_lab_wl, p2_lab_f, 1, 443, 6.5, Y_MAJOR, Y_MINOR)
p3 = panel([("+2456130", grr12_130), ("+2456136", grr12_136)],
           p3_lab_text, p3_lab_wl, p3_lab_f, 2, 441, 6.5, Y_MAJOR, Y_MINOR)

chart = alt.vconcat(p1, p2, p3, spacing=19).properties(
    padding=0, background="white").configure_view(stroke=AXIS_GRAY, strokeWidth=4)

chart.save("out.html", embed_options={"renderer": "svg", "actions": False})
